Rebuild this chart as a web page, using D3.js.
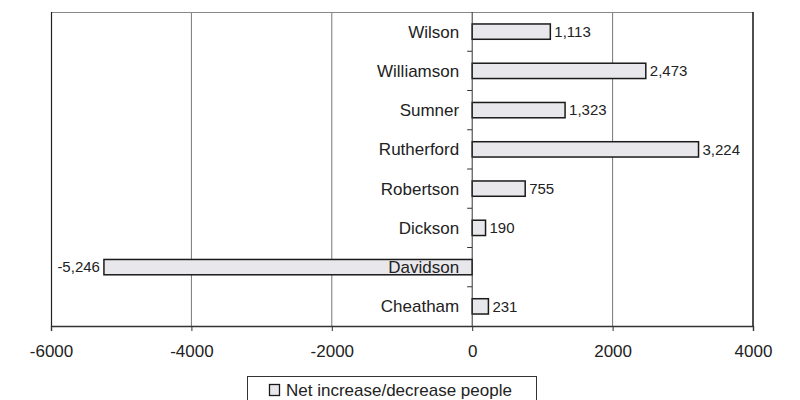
<!DOCTYPE html>
<html>
<head>
<meta charset="utf-8">
<script src="https://cdn.jsdelivr.net/npm/d3@7"></script>
<style>
  html, body { margin: 0; padding: 0; background: #fff; }
  svg { display: block; font-family: "Liberation Sans", Arial, sans-serif; }
</style>
</head>
<body>
<svg id="chart" width="800" height="400"></svg>
<script>
// Net change in population by county
const counties = ["Wilson", "Williamson", "Sumner", "Rutherford", "Robertson", "Dickson", "Davidson", "Cheatham"];
const netChange = [1113, 2473, 1323, 3224, 755, 190, -5246, 231];
const xTicks = [-6000, -4000, -2000, 0, 2000, 4000];
const seriesName = "Net increase/decrease people";

// plain hyphen for negative numbers
const locale = d3.formatLocale({ decimal: ".", thousands: ",", grouping: [3], currency: ["$", ""], minus: "-" });
const fmtTick = locale.format("d");
const fmtValue = locale.format(",");

const svg = d3.select("#chart");
const plot = { left: 51, right: 753, top: 12, bottom: 326 };
const textColor = "#222";

const x = d3.scaleLinear().domain([-6000, 4000]).range([plot.left, plot.right]);
const y = d3.scaleBand().domain(counties).range([plot.top, plot.bottom]).paddingInner(0.61).paddingOuter(0.305);
const band = d3.scaleBand().domain(counties).range([plot.top, plot.bottom]);

// vertical gridlines
svg.append("g")
  .selectAll("line")
  .data(xTicks.filter(t => t !== 0 && t !== -6000 && t !== 4000))
  .join("line")
  .attr("x1", d => x(d)).attr("x2", d => x(d))
  .attr("y1", plot.top).attr("y2", plot.bottom)
  .attr("stroke", "#777").attr("stroke-width", 1);

// plot frame
svg.append("line").attr("x1", plot.left).attr("x2", plot.right).attr("y1", plot.top + 0.5).attr("y2", plot.top + 0.5)
  .attr("stroke", "#888").attr("stroke-width", 1);
svg.append("line").attr("x1", plot.left + 0.5).attr("x2", plot.left + 0.5).attr("y1", plot.top).attr("y2", plot.bottom)
  .attr("stroke", "#222").attr("stroke-width", 1.2);
svg.append("line").attr("x1", plot.right).attr("x2", plot.right).attr("y1", plot.top).attr("y2", plot.bottom)
  .attr("stroke", "#222").attr("stroke-width", 1.6);

// bottom value axis
const xAxis = svg.append("g")
  .attr("transform", `translate(0,${plot.bottom})`)
  .call(d3.axisBottom(x).tickValues(xTicks).tickFormat(fmtTick).tickSize(5).tickPadding(14));
xAxis.select(".domain").attr("stroke", "#333").attr("stroke-width", 1.4);
xAxis.selectAll(".tick line").attr("stroke", "#333");
xAxis.selectAll(".tick text").attr("font-size", 17).attr("fill", textColor)
  .attr("font-family", "Liberation Sans, Arial, sans-serif");

// bars
svg.append("g")
  .selectAll("rect")
  .data(counties.map((c, i) => ({ county: c, value: netChange[i] })))
  .join("rect")
  .attr("x", d => x(Math.min(0, d.value)))
  .attr("width", d => Math.abs(x(d.value) - x(0)))
  .attr("y", d => y(d.county))
  .attr("height", y.bandwidth())
  .attr("fill", "#e8e8ec")
  .attr("stroke", "#1a1a1a")
  .attr("stroke-width", 1.5);

// category axis at zero
const yAxis = svg.append("g")
  .attr("transform", `translate(${x(0)},0)`);
yAxis.append("line").attr("x1", 0).attr("x2", 0).attr("y1", plot.top).attr("y2", plot.bottom)
  .attr("stroke", "#333").attr("stroke-width", 1);
yAxis.selectAll("line.tick")
  .data(counties.slice(1))
  .join("line").attr("class", "tick")
  .attr("x1", -5).attr("x2", 0)
  .attr("y1", d => band(d)).attr("y2", d => band(d))
  .attr("stroke", "#333");
yAxis.selectAll("text")
  .data(counties)
  .join("text")
  .attr("x", -13)
  .attr("y", d => band(d) + band.bandwidth() / 2)
  .attr("dy", "0.35em")
  .attr("text-anchor", "end")
  .attr("font-size", 17)
  .attr("fill", textColor)
  .text(d => d);

// value labels
svg.append("g")
  .selectAll("text")
  .data(counties.map((c, i) => ({ county: c, value: netChange[i] })))
  .join("text")
  .attr("x", d => d.value >= 0 ? x(d.value) + 4 : x(d.value) - 4)
  .attr("y", d => band(d.county) + band.bandwidth() / 2)
  .attr("dy", "0.35em")
  .attr("text-anchor", d => d.value >= 0 ? "start" : "end")
  .attr("font-size", 15)
  .attr("fill", textColor)
  .text(d => fmtValue(d.value));

// legend
const legend = svg.append("g");
legend.append("rect").attr("x", 247.5).attr("y", 376.5).attr("width", 289).attr("height", 30)
  .attr("fill", "#fff").attr("stroke", "#333").attr("stroke-width", 1);
legend.append("rect").attr("x", 269.5).attr("y", 384.5).attr("width", 10).attr("height", 11)
  .attr("fill", "#e8e8ec").attr("stroke", "#1a1a1a").attr("stroke-width", 1.3);
legend.append("text").attr("x", 286).attr("y", 390.5).attr("dy", "0.35em")
  .attr("font-size", 17).attr("fill", textColor).text(seriesName);
</script>
</body>
</html>
